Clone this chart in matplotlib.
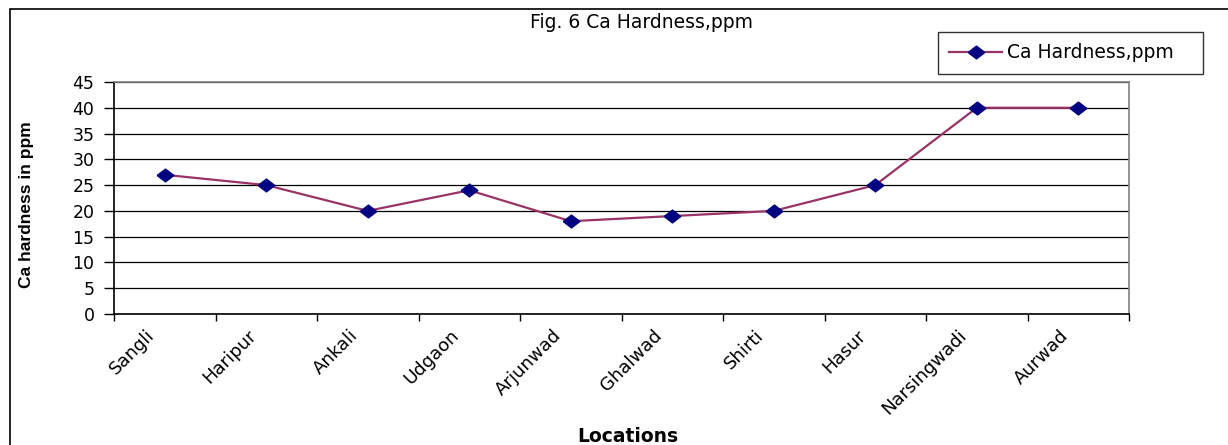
import matplotlib
matplotlib.use("Agg")
import matplotlib.pyplot as plt
from matplotlib.patches import Rectangle
from matplotlib.ticker import MultipleLocator
from matplotlib.transforms import ScaledTranslation

plt.rcParams['font.family'] = ['DejaVu Sans']

locations = ["Sangli", "Haripur", "Ankali", "Udgaon", "Arjunwad",
             "Ghalwad", "Shirti", "Hasur", "Narsingwadi", "Aurwad"]
ca_hardness = [27, 25, 20, 24, 18, 19, 20, 25, 40, 40]

fig = plt.figure(figsize=(12.28, 4.45), dpi=100)
ax = fig.add_axes([114/1228, 1 - 314/445, (1129 - 114)/1228, (314 - 82)/445])

# outer chart frame (cut off on the right and bottom)
fig.patches.append(Rectangle((10/1228, -0.1), 1.1, 1 - 9/445 + 0.1,
                             transform=fig.transFigure, fill=False,
                             ec='black', lw=1.2))

# slightly wide diamond, like the excel marker
diamond = [(-1.3, 0), (0, 1), (1.3, 0), (0, -1), (-1.3, 0)]

x = list(range(len(locations)))
ax.plot(x, ca_hardness, '-', color='#993366', lw=1.6,
        marker=diamond, ms=12, mfc='#000080', mec='#000080',
        label="Ca Hardness,ppm", zorder=3)

ax.set_xlim(-0.5, len(locations) - 0.5)
ax.set_ylim(0, 45)
ax.yaxis.set_major_locator(MultipleLocator(5))
ax.set_xticks([i - 0.5 for i in range(len(locations) + 1)])
ax.set_xticklabels([])
ax.set_xticks(x, minor=True)
ax.set_xticklabels(locations, minor=True, rotation=45, ha='right',
                   rotation_mode='anchor', fontsize=13)
ax.tick_params(axis='x', which='minor', length=0, pad=9)
ax.tick_params(axis='x', which='major', length=5, width=1, direction='out')
ax.tick_params(axis='y', length=7, width=1, direction='out', labelsize=12.5, pad=7)

# nudge the slanted labels left, so they end just before the category centre
shift = ScaledTranslation(-19/100, 0, fig.dpi_scale_trans)
for lbl in ax.get_xticklabels(minor=True):
    lbl.set_transform(lbl.get_transform() + shift)

ax.grid(axis='y', color='black', lw=0.9)
ax.set_axisbelow(True)
for s in ['top', 'right']:
    ax.spines[s].set_color('#808080')
    ax.spines[s].set_linewidth(1.2)
for s in ['left', 'bottom']:
    ax.spines[s].set_color('black')
    ax.spines[s].set_linewidth(1.2)

fig.text(641/1228, 1 - 23/445, "Fig. 6 Ca Hardness,ppm", ha='center', va='center',
         fontsize=13.5)
fig.text(27/1228, 1 - 205/445, "Ca hardness in ppm", rotation=90, ha='center',
         va='center', fontsize=12.5, fontweight='bold',
         family=['Liberation Sans Narrow', 'Liberation Sans'])
fig.text(628/1228, 1 - 436/445, "Locations", ha='center', va='center',
         fontsize=13.5, fontweight='bold')

leg = ax.legend(loc='center', bbox_to_anchor=(938/1228, 1 - 73/445, 265/1228, 40/445),
                bbox_transform=fig.transFigure, mode='expand', fontsize=13.5,
                frameon=True, fancybox=False, borderaxespad=0, handlelength=2.8,
                handletextpad=0.3, borderpad=0.6)
leg.get_frame().set_edgecolor('black')
leg.get_frame().set_linewidth(1)

fig.savefig("out.png", dpi=100)
